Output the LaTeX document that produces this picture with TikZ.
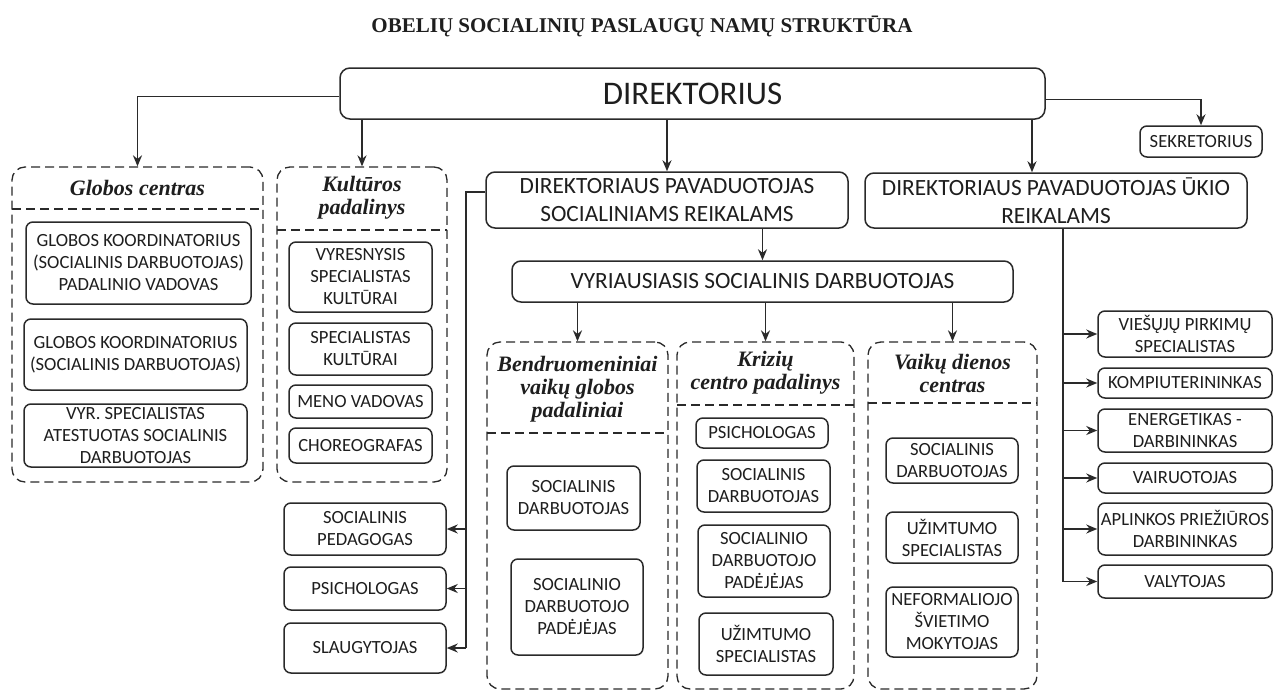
\documentclass[tikz,border=0pt]{standalone}
\usepackage{fontspec}
\setmainfont{Carlito}
\newfontfamily\tnr{Liberation Serif}
\usetikzlibrary{arrows.meta}
\definecolor{ink}{HTML}{1E1E1E}
\definecolor{linec}{HTML}{2A2A2A}
\tikzset{
  box/.style={draw=linec, line width=1.5pt, rounded corners=7pt, align=center, text=ink, inner sep=0pt, font=\fontsize{18.6}{22}\selectfont},
  bigbox/.style={rounded corners=9pt, font=\fontsize{23.3}{28}\selectfont},
  topbox/.style={rounded corners=10pt, font=\fontsize{33}{36}\selectfont},
  grp/.style={line width=1.3pt, dash pattern=on 9pt off 5pt, rounded corners=13pt},
  divider/.style={draw=linec, line width=1.3pt, dash pattern=on 9pt off 5pt},
  head/.style={align=center, text=ink, inner sep=0pt, font=\tnr\bfseries\itshape\fontsize{22}{23}\selectfont},
  titletext/.style={text=ink, inner sep=0pt, font=\tnr\bfseries\fontsize{21}{24}\selectfont},
  conn/.style={draw=linec, line width=1.7pt},
  arr/.style={conn, -{Stealth[length=11pt,width=9pt]}},
}
\newcommand\bx[7][]{\node[box,#1,minimum width={(#5-#3)*1pt},minimum height={(#6-#4)*1pt}] (#2) at ({(#3+#5)/2},{(#4+#6)/2}) {#7};}
\begin{document}
\begin{tikzpicture}[x=1pt,y=-1pt]
\fill[white] (0,0) rectangle (1278,691);
\useasboundingbox (0,0) rectangle (1278,691);

% title
\node[titletext, anchor=base] (title) at (642,32) {OBELIŲ SOCIALINIŲ PASLAUGŲ NAMŲ STRUKTŪRA};

% top level
\bx[topbox]{dir}{340}{68}{1045}{119}{DIREKTORIUS}
\bx{sek}{1140}{126}{1262}{157}{SEKRETORIUS}
\bx[bigbox]{ps}{486}{172}{848}{228}{DIREKTORIAUS PAVADUOTOJAS\\SOCIALINIAMS REIKALAMS}
\bx[bigbox]{uk}{865}{173}{1247}{228}{DIREKTORIAUS PAVADUOTOJAS ŪKIO\\REIKALAMS}
\bx[bigbox]{vyr}{512}{261}{1013}{302}{VYRIAUSIASIS SOCIALINIS DARBUOTOJAS}

% Globos centras
\bx[grp]{gc}{12}{167}{263}{482}{}
\draw[divider] (12,209) -- (263,209);
\node[head] (gch) at (137.5,188) {Globos centras};
\bx{g1}{26}{222}{251}{304}{GLOBOS KOORDINATORIUS\\(SOCIALINIS DARBUOTOJAS)\\PADALINIO VADOVAS}
\bx{g2}{24}{319}{247}{390}{GLOBOS KOORDINATORIUS\\(SOCIALINIS DARBUOTOJAS)}
\bx{g3}{24}{404}{247}{467}{VYR. SPECIALISTAS\\ATESTUOTAS SOCIALINIS\\DARBUOTOJAS}

% Kulturos padalinys
\bx[grp]{kp}{277}{167}{447}{482}{}
\draw[divider] (277,230) -- (447,230);
\node[head] (kph) at (362,198) {Kultūros\\padalinys};
\bx{k1}{289}{242}{432}{312}{VYRESNYSIS\\SPECIALISTAS\\KULTŪRAI}
\bx{k2}{289}{323}{432}{375}{SPECIALISTAS\\KULTŪRAI}
\bx{k3}{289}{385}{432}{418}{MENO VADOVAS}
\bx{k4}{289}{428}{432}{463}{CHOREOGRAFAS}

% left column
\bx{l1}{284}{503}{446}{555}{SOCIALINIS\\PEDAGOGAS}
\bx{l2}{284}{567}{446}{610}{PSICHOLOGAS}
\bx{l3}{284}{623}{446}{673}{SLAUGYTOJAS}

% Bendruomeniniai
\bx[grp]{bc}{487}{342}{668}{689}{}
\draw[divider] (487,433) -- (668,433);
\node[head] (bch) at (577.5,389) {Bendruomeniniai\\vaikų globos\\padaliniai};
\bx{b1}{507}{466}{640}{530}{SOCIALINIS\\DARBUOTOJAS}
\bx{b2}{511}{559}{643}{655}{SOCIALINIO\\DARBUOTOJO\\PADĖJĖJAS}

% Kriziu centro padalinys
\bx[grp]{kc}{677}{342}{854}{689}{}
\draw[divider] (677,405) -- (854,405);
\node[head] (kch) at (765.5,373) {Krizių\\centro padalinys};
\bx{c1}{696}{418}{828}{448}{PSICHOLOGAS}
\bx{c2}{697}{460}{830}{512}{SOCIALINIS\\DARBUOTOJAS}
\bx{c3}{698}{525}{830}{597}{SOCIALINIO\\DARBUOTOJO\\PADĖJĖJAS}
\bx{c4}{699}{613}{833}{675}{UŽIMTUMO\\SPECIALISTAS}

% Vaiku dienos centras
\bx[grp]{vd}{868}{342}{1037}{689}{}
\draw[divider] (868,403) -- (1037,403);
\node[head] (vdh) at (952.5,373) {Vaikų dienos\\centras};
\bx{v1}{886}{438}{1018}{483}{SOCIALINIS\\DARBUOTOJAS}
\bx{v2}{886}{512}{1018}{563}{UŽIMTUMO\\SPECIALISTAS}
\bx{v3}{886}{587}{1018}{657}{NEFORMALIOJO\\ŠVIETIMO\\MOKYTOJAS}

% right column
\bx{r1}{1098}{311}{1272}{357}{VIEŠŲJŲ PIRKIMŲ\\SPECIALISTAS}
\bx{r2}{1098}{368}{1272}{398}{KOMPIUTERININKAS}
\bx{r3}{1098}{409}{1272}{452}{ENERGETIKAS -\\DARBININKAS}
\bx{r4}{1098}{463}{1272}{493}{VAIRUOTOJAS}
\bx{r5}{1098}{503}{1272}{555}{APLINKOS PRIEŽIŪROS\\DARBININKAS}
\bx{r6}{1098}{565}{1272}{598}{VALYTOJAS}

% connectors from director
\draw[arr] ([yshift=-3pt]dir.west) -| (gc.north);
\draw[arr] (dir.south -| kp.north) -- (kp.north);
\draw[arr] (dir.south -| ps.north) -- (ps.north);
\draw[arr] ([xshift=-24pt]dir.south -| uk.north) -- ([xshift=-24pt]uk.north);
\draw[arr] ([yshift=-6pt]dir.east) -| (sek.north);

% social deputy
\coordinate (spine) at (466,192);
\draw[conn] ([yshift=8pt]ps.west) -- (spine) -- (spine |- l3.east);
\draw[arr] (spine |- l1.east) -- (l1.east);
\draw[arr] (spine |- l2.east) -- (l2.east);
\draw[arr] (spine |- l3.east) -- (l3.east);
\draw[arr] (ps.south -| vyr.north) -- (vyr.north);

% chief social worker
\draw[arr] (vyr.south -| bc.north) -- (bc.north);
\draw[arr] (vyr.south -| kc.north) -- (kc.north);
\draw[arr] (vyr.south -| vd.north) -- (vd.north);

% economic deputy
\coordinate (us) at ([xshift=7pt]uk.south);
\draw[conn] (us) -- (us |- r6.west);
\draw[arr] (us |- r1.west) -- (r1.west);
\draw[arr] (us |- r2.west) -- (r2.west);
\draw[arr] (us |- r3.west) -- (r3.west);
\draw[arr] (us |- r4.west) -- (r4.west);
\draw[arr] (us |- r5.west) -- (r5.west);
\draw[arr] (us |- r6.west) -- (r6.west);
\end{tikzpicture}
\end{document}
